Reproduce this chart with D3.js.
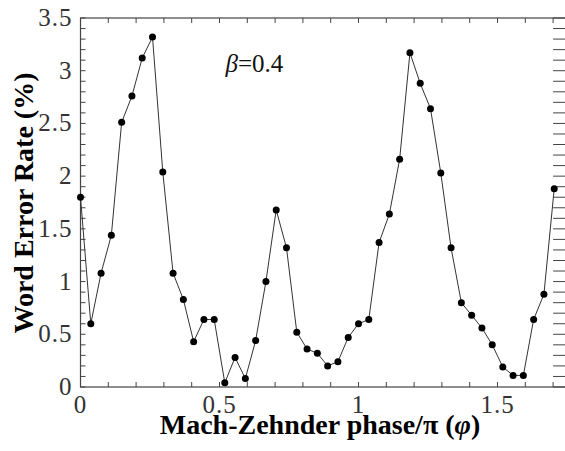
<!DOCTYPE html>
<html>
<head>
<meta charset="utf-8">
<script src="https://cdn.jsdelivr.net/npm/d3@7"></script>
<style>
  body { margin: 0; background: #fff; }
  text { font-family: "Liberation Serif", "Times New Roman", serif; }
</style>
</head>
<body>
<div id="chart"></div>
<script>
// data
const phase = [0, 0.037, 0.074, 0.111, 0.148, 0.185, 0.222, 0.259, 0.296, 0.333,
  0.370, 0.407, 0.444, 0.481, 0.519, 0.556, 0.593, 0.630, 0.667, 0.704,
  0.741, 0.778, 0.815, 0.852, 0.889, 0.926, 0.963, 1.000, 1.037, 1.074,
  1.111, 1.148, 1.185, 1.222, 1.259, 1.296, 1.333, 1.370, 1.407, 1.444,
  1.481, 1.519, 1.556, 1.593, 1.630, 1.667, 1.704];
const wer = [1.80, 0.60, 1.08, 1.44, 2.51, 2.76, 3.12, 3.32, 2.04, 1.08,
  0.83, 0.43, 0.64, 0.64, 0.04, 0.28, 0.08, 0.44, 1.00, 1.68,
  1.32, 0.52, 0.36, 0.32, 0.20, 0.24, 0.47, 0.60, 0.64, 1.37,
  1.64, 2.16, 3.17, 2.88, 2.64, 2.03, 1.32, 0.80, 0.68, 0.56,
  0.40, 0.19, 0.11, 0.11, 0.64, 0.88, 1.88];
const xMajor = [0, 0.5, 1, 1.5];
const yMajor = [0, 0.5, 1, 1.5, 2, 2.5, 3, 3.5];

const width = 565;
const height = 451;
const margin = {top: 18, right: -2, bottom: 64, left: 80.5};
const innerWidth = width - margin.left - margin.right;
const innerHeight = height - margin.top - margin.bottom;

const svg = d3.select("#chart")
  .append("svg")
  .attr("width", width)
  .attr("height", height);

const chart = svg.append("g")
  .attr("transform", `translate(${margin.left}, ${margin.top})`);

const x = d3.scaleLinear().domain([0, 1.75]).range([0, innerWidth]);
const y = d3.scaleLinear().domain([0, 3.5]).range([innerHeight, 0]);

const xMinor = d3.range(0, 1.71, 0.1);
const yMinor = d3.range(0, 3.51, 0.1);

// frame
chart.append("rect")
  .attr("width", innerWidth)
  .attr("height", innerHeight)
  .attr("fill", "none")
  .attr("stroke", "#444")
  .attr("stroke-width", 1.2);

// inward ticks on all four sides
const tk = 5;
const tickStyle = sel => sel.attr("stroke", "#444").attr("stroke-width", 1);
chart.selectAll(".xb").data(xMinor).enter().append("line")
  .attr("x1", d => x(d)).attr("x2", d => x(d))
  .attr("y1", innerHeight).attr("y2", innerHeight - tk).call(tickStyle);
chart.selectAll(".xt").data(xMinor).enter().append("line")
  .attr("x1", d => x(d)).attr("x2", d => x(d))
  .attr("y1", 0).attr("y2", tk).call(tickStyle);
chart.selectAll(".yl").data(yMinor).enter().append("line")
  .attr("y1", d => y(d)).attr("y2", d => y(d))
  .attr("x1", 0).attr("x2", tk).call(tickStyle);
chart.selectAll(".yr").data(yMinor).enter().append("line")
  .attr("y1", d => y(d)).attr("y2", d => y(d))
  .attr("x1", x(1.7) ).attr("x2", x(1.7) + 12).call(tickStyle);

// tick labels
chart.selectAll(".xl").data(xMajor).enter().append("text")
  .attr("x", d => x(d))
  .attr("y", innerHeight + 26)
  .attr("text-anchor", "middle")
  .attr("font-size", 25)
  .attr("letter-spacing", 1)
  .attr("fill", "#333")
  .text(d => d);
chart.selectAll(".ylab").data(yMajor).enter().append("text")
  .attr("x", -8)
  .attr("y", d => y(d) + 8)
  .attr("text-anchor", "end")
  .attr("font-size", 25)
  .attr("letter-spacing", 1)
  .attr("fill", "#333")
  .text(d => d);

// axis titles
const xt = svg.append("text")
  .attr("x", 320)
  .attr("y", 434)
  .attr("text-anchor", "middle")
  .attr("font-size", 28)
  .attr("font-weight", "bold");
xt.append("tspan").text("Mach-Zehnder phase/π (");
xt.append("tspan").attr("font-style", "italic").text("φ");
xt.append("tspan").text(")");

svg.append("text")
  .attr("transform", "rotate(-90)")
  .attr("x", -203)
  .attr("y", 33)
  .attr("text-anchor", "middle")
  .attr("font-size", 28)
  .attr("font-weight", "bold")
  .text("Word Error Rate (%)");

// annotation
const ann = chart.append("text")
  .attr("x", 145)
  .attr("y", 54)
  .attr("font-size", 25)
  .attr("fill", "#111");
ann.append("tspan").attr("font-style", "italic").text("β");
ann.append("tspan").text("=0.4");

// series
const pts = phase.map((p, i) => ({p: p, v: wer[i]}));
chart.append("path")
  .datum(pts)
  .attr("fill", "none")
  .attr("stroke", "#333")
  .attr("stroke-width", 1)
  .attr("d", d3.line().x(d => x(d.p)).y(d => y(d.v)));
chart.selectAll(".dot")
  .data(pts)
  .enter()
  .append("circle")
  .attr("cx", d => x(d.p))
  .attr("cy", d => y(d.v))
  .attr("r", 3.5)
  .attr("fill", "#000");
</script>
</body>
</html>
